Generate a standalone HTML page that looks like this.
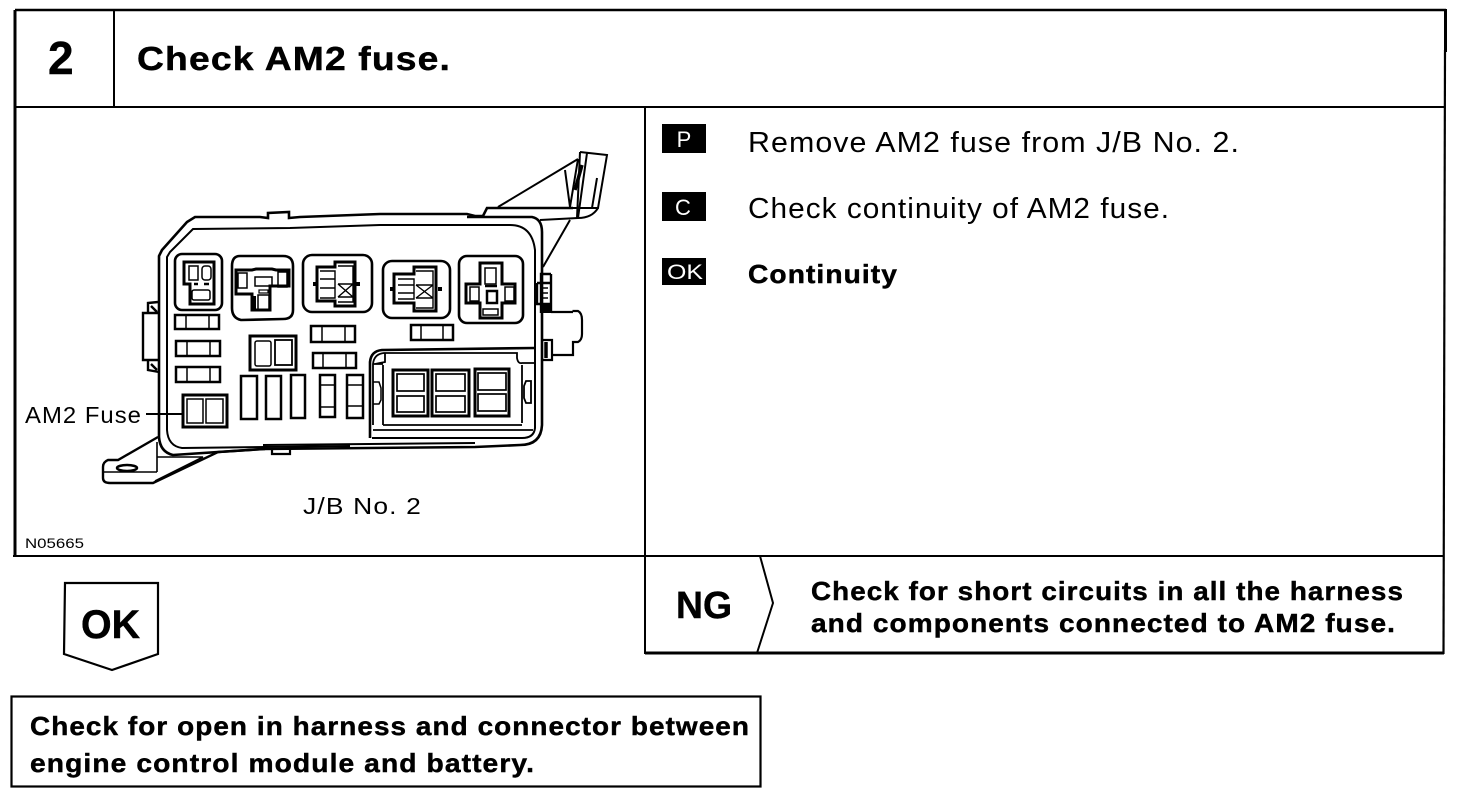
<!DOCTYPE html>
<html><head><meta charset="utf-8"><style>
html,body{margin:0;padding:0;background:#fff}
svg{display:block}
text{font-family:"Liberation Sans",Arial,sans-serif;fill:#000}
.b{font-weight:bold;stroke:#000;stroke-width:.45px}
</style></head><body>
<svg width="1472" height="802" viewBox="0 0 1472 802" xmlns="http://www.w3.org/2000/svg">
<g fill="none" stroke="#000" stroke-width="2">
<!-- frame -->
<path d="M15 10H1446" stroke-width="2.500"/>
<path d="M1445.500 9V52" stroke-width="3"/>
<path d="M1445 50L1443.500 654" stroke-width="2.200"/>
<path d="M15 10V556" stroke-width="3"/>
<path d="M15 107H1445M114 11V107" stroke-width="2"/>
<path d="M645 107V654" stroke-width="2"/>
<path d="M13 556H1443" stroke-width="2"/>
<path d="M645 653H1444" stroke-width="3"/>
<path d="M760 556L773 603L757 653" stroke-width="2"/>
<path d="M65 583H158V654L112 670L64 654Z" stroke-width="2.200"/>
<rect x="11.500" y="696.500" width="749" height="90" stroke-width="2.200"/>
</g>
<!-- device -->
<g fill="none" stroke="#000" stroke-width="2">
<path d="M159 437V256L162 250L187 222L195 217H260L268 218V213L289 212V218L300 217L380 214H467L475 216H483L487 208H573" stroke-width="2.600"/>
<path d="M467 217L532 217Q542 219 542 232V425Q541 445 520 445L475 447L263 449L173 455Q160 452 159 437" stroke-width="2.600"/>
<path d="M263 445L475 443" stroke-width="2"/>
<path d="M167 430V257L170 252L193 229L290 228L380 225H510Q532 225 535 250V428Q534 438 522 438H372M167 430Q168 446 182 448L350 446" stroke-width="2"/>
<!-- top bracket -->
<path d="M498 207L578 159M580 152L607 155L598 208H573M598 208Q592 218 578 218L540 220M580 152L577 218M587 153L578 218M597 178L592 208M565 170L570 207L578 159M570 220L543 267" stroke-width="2"/>
<path d="M582 165L575 190" stroke-width="3.500"/>
<!-- right clip -->
<path d="M537 283H551M551 274H541V313" stroke-width="2.400"/>
<path d="M551 274V313M537 283V304H551" stroke-width="2.400"/>
<path d="M540 288H548M540 293H548M540 298H548" stroke-width="1.500"/>
<rect x="542" y="305" width="9" height="8" fill="#000" stroke="none"/>
<path d="M551 312H573M572.500 311H578Q582 313 582 320V334Q582 340 578 342H573V355H552M543 340H552V360H543" stroke-width="2.200"/>
<path d="M546 342V358" stroke-width="3.500"/>
<!-- left clip -->
<path d="M159 313H143V360H159M148 313V303L158 302M148 360V370L159 372M151 306L157 312M151 364L157 370" stroke-width="2.400"/>
<!-- bottom bracket -->
<path d="M158 437L118 460H108Q103 462 103 467V478Q103 483 110 483H153L218 452L265 449" stroke-width="2.400"/>
<path d="M157 442V472M157 457H203L155 481M103 472H157" stroke-width="1.600"/>
<ellipse cx="127" cy="468" rx="10" ry="3" stroke-width="2.500"/>
<path d="M272 448V454H290V448" stroke-width="2.200"/>
<!-- socket outlines -->
<g stroke-width="2.600">
<rect x="175" y="254" width="47" height="56" rx="7"/>
<path d="M240 256H283Q293 256 293 266V310Q293 319 283 319L241 320Q232 318 232 308V266Q232 256 240 256Z"/>
<rect x="303" y="255" width="69" height="57" rx="9"/>
<rect x="383" y="261" width="67" height="57" rx="9"/>
<rect x="459" y="256" width="64" height="67" rx="8"/>
</g>
<!-- socket 1 -->
<path d="M184 262H214V304H190V284H184Z" stroke-width="3"/>
<rect x="189" y="266" width="9" height="14" stroke-width="1.500"/>
<rect x="202" y="266" width="9" height="14" rx="3" stroke-width="1.500"/>
<rect x="192" y="290" width="18" height="10" rx="2" stroke-width="1.500"/>
<path d="M194 284h4M204 284h5" stroke-width="2.500"/>
<!-- socket 2 -->
<path d="M236 270H252L256 269H272L276 270H289V286H270V310H252V294H236Z" stroke-width="3"/>
<rect x="238" y="273" width="9" height="15" stroke-width="1.500"/>
<rect x="278" y="272" width="9" height="15" stroke-width="1.500"/>
<rect x="255" y="277" width="17" height="9" stroke-width="1.500"/>
<rect x="259" y="290" width="9" height="3" stroke-width="1.200"/>
<rect x="258" y="295" width="11" height="15" stroke-width="1.500"/>
<path d="M254 296V310" stroke-width="4"/>
<!-- socket 3 -->
<path d="M317 267H335V262H355V306H335V301H317Z" stroke-width="3"/>
<path d="M320 271H335V298H320M320 279H335M320 288H335M338 266H353V302H338M338 284L353 297M353 284L338 297M338 284H353M338 297H353" stroke-width="1.400"/>
<path d="M313 284H316M356 284H360" stroke-width="4"/>
<!-- socket 4 -->
<path d="M394 274H414V267H436V311H414V303H394Z" stroke-width="3"/>
<path d="M398 279H414V299H398M398 285H414M398 293H414M416 271H433V308H416M416 285L433 298M433 285L416 298M416 285H433M416 298H433" stroke-width="1.400"/>
<path d="M390 289H393M438 289H442" stroke-width="4"/>
<!-- socket 5 -->
<path d="M480 263H502V284H515V303H502V318H480V303H466V284H480Z" stroke-width="3"/>
<rect x="485" y="268" width="11" height="16" stroke-width="1.500"/>
<rect x="470" y="287" width="9" height="14" stroke-width="1.500"/>
<rect x="505" y="287" width="9" height="14" stroke-width="1.500"/>
<rect x="487" y="291" width="10" height="12" stroke-width="2.500"/>
<rect x="483" y="309" width="15" height="6" stroke-width="1.500"/>
<path d="M485 286h12" stroke-width="2.500"/>
<!-- small fuses -->
<g stroke-width="2.500">
<rect x="175" y="315" width="44" height="14"/><path d="M186 315V329M209 315V329" stroke-width="1.500"/>
<rect x="176" y="341" width="44" height="15"/><path d="M187 341V356M210 341V356" stroke-width="1.500"/>
<rect x="176" y="367" width="44" height="15"/><path d="M187 367V382M210 367V382" stroke-width="1.500"/>
<rect x="311" y="326" width="44" height="16"/><path d="M322 326V342M345 326V342" stroke-width="1.500"/>
<rect x="313" y="353" width="43" height="15"/><path d="M323 353V368M346 353V368" stroke-width="1.500"/>
<rect x="411" y="325" width="42" height="15"/><path d="M421 325V340M443 325V340" stroke-width="1.500"/>
</g>
<!-- double fuse -->
<rect x="250" y="336" width="46" height="34" stroke-width="3"/>
<rect x="255" y="341" width="16" height="25" rx="2" stroke-width="1.500"/>
<rect x="275" y="340" width="17" height="25" stroke-width="1.800"/>
<!-- AM2 fuse -->
<rect x="183" y="395" width="44" height="32" stroke-width="3"/>
<rect x="187" y="399" width="16" height="24" stroke-width="1.500"/>
<rect x="206" y="399" width="17" height="24" stroke-width="1.500"/>
<path d="M146 414H183" stroke-width="2"/>
<!-- tall fuses -->
<g stroke-width="2.500">
<rect x="241" y="376" width="16" height="43"/>
<rect x="266" y="376" width="15" height="43"/>
<rect x="291" y="375" width="14" height="43"/>
<rect x="320" y="375" width="15" height="42"/><path d="M320 385H335M320 407H335" stroke-width="1.500"/>
<rect x="347" y="375" width="16" height="43"/><path d="M347 385H363M347 406H363" stroke-width="1.500"/>
</g>
<!-- relay block -->
<path d="M370 438V362Q371 351 382 350L535 348" stroke-width="2.600"/>
<path d="M373 425V364Q374 354 384 353H517V358Q518 364 522 363H535M385 353V362L375 364M383 425H522M373 430H533M522 423V365M383 425V365M373 364H383" stroke-width="1.800"/>
<path d="M373 382H379L381 388V400L379 404H373" stroke-width="1.500"/>
<path d="M526 381H531V403H526L524 398V386Z" stroke-width="1.800"/>
<g stroke-width="3">
<rect x="393" y="370" width="35" height="46"/>
<rect x="432" y="370" width="37" height="46"/>
<rect x="475" y="369" width="34" height="47"/>
</g>
<g stroke-width="1.700">
<rect x="397" y="374" width="27" height="17"/>
<rect x="397" y="396" width="27" height="16"/>
<rect x="436" y="374" width="29" height="17"/>
<rect x="436" y="396" width="29" height="16"/>
<rect x="478" y="373" width="28" height="17"/>
<rect x="478" y="394" width="28" height="17"/>
</g>
</g>
<!-- badges -->
<rect x="662" y="124" width="44" height="29" fill="#000"/>
<rect x="662" y="192" width="44" height="29" fill="#000"/>
<rect x="662" y="258" width="44" height="27" fill="#000"/>
<text x="684" y="147" font-size="22" text-anchor="middle" style="fill:#fff">P</text>
<text x="683" y="215" font-size="22" text-anchor="middle" style="fill:#fff">C</text>
<text x="667" y="279" font-size="21" textLength="36" lengthAdjust="spacingAndGlyphs" style="fill:#fff">OK</text>
<!-- text -->
<text class="b" x="48" y="74" font-size="46">2</text>
<text class="b" x="137" y="70" font-size="33" letter-spacing="1" textLength="314" lengthAdjust="spacingAndGlyphs">Check AM2 fuse.</text>
<text x="748" y="152" font-size="29" letter-spacing="1" textLength="492" lengthAdjust="spacingAndGlyphs">Remove AM2 fuse from J/B No. 2.</text>
<text x="748" y="218" font-size="29" letter-spacing="1" textLength="422" lengthAdjust="spacingAndGlyphs">Check continuity of AM2 fuse.</text>
<text class="b" x="748" y="283" font-size="26" letter-spacing="1" textLength="150" lengthAdjust="spacingAndGlyphs">Continuity</text>
<text x="25" y="423" font-size="23" letter-spacing="1" textLength="117" lengthAdjust="spacingAndGlyphs">AM2 Fuse</text>
<text x="303" y="514" font-size="23" letter-spacing="1" textLength="119" lengthAdjust="spacingAndGlyphs">J/B No. 2</text>
<text x="25" y="548" font-size="14" textLength="59" lengthAdjust="spacingAndGlyphs">N05665</text>
<text class="b" x="81" y="638" font-size="40" textLength="59" lengthAdjust="spacingAndGlyphs">OK</text>
<text class="b" x="676" y="618" font-size="38" textLength="56" lengthAdjust="spacingAndGlyphs">NG</text>
<text class="b" x="811" y="600" font-size="26" letter-spacing="1" textLength="593" lengthAdjust="spacingAndGlyphs">Check for short circuits in all the harness</text>
<text class="b" x="811" y="632" font-size="26" letter-spacing="1" textLength="585" lengthAdjust="spacingAndGlyphs">and components connected to AM2 fuse.</text>
<text class="b" x="30" y="735" font-size="26" letter-spacing="1" textLength="720" lengthAdjust="spacingAndGlyphs">Check for open in harness and connector between</text>
<text class="b" x="30" y="772" font-size="26" letter-spacing="1" textLength="505" lengthAdjust="spacingAndGlyphs">engine control module and battery.</text>
</svg>
</body></html>
